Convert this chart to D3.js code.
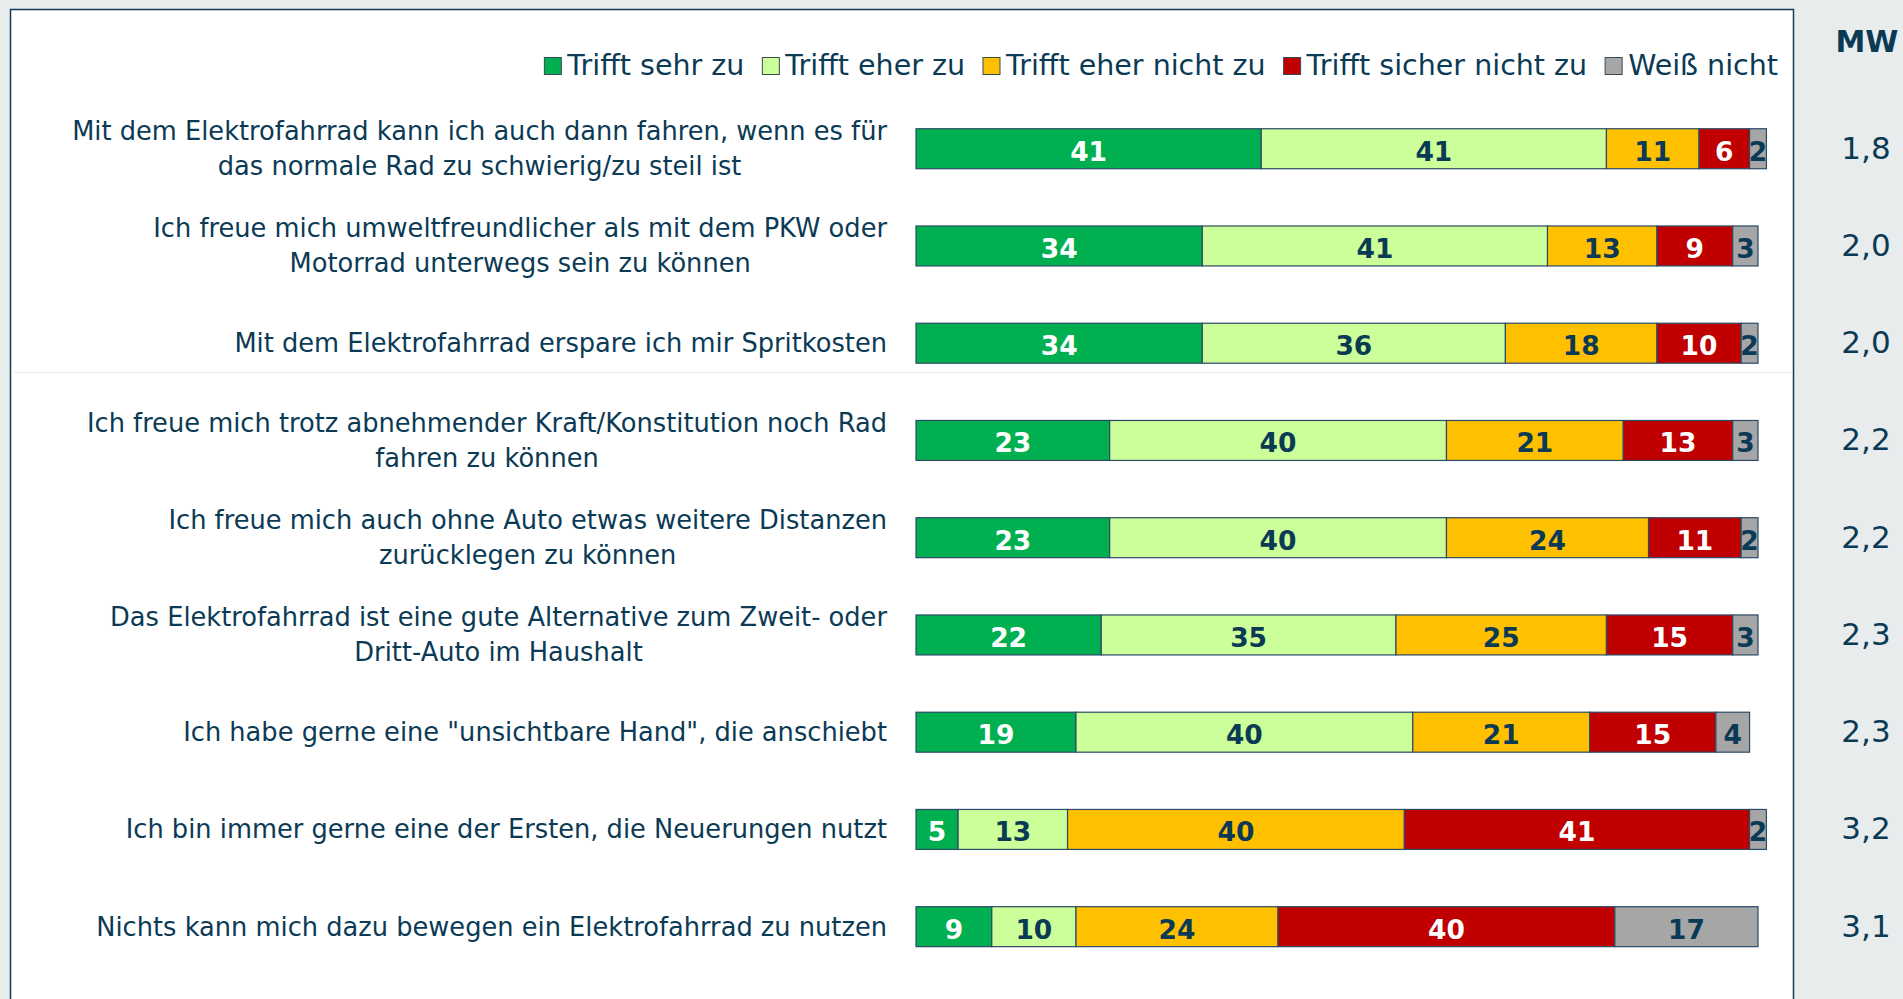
<!DOCTYPE html>
<html><head><meta charset="utf-8">
<script src="https://cdn.jsdelivr.net/npm/d3@7"></script>
<style>html,body{margin:0;padding:0;background:#e8eced;overflow:hidden}</style>
</head><body><svg id="chart" width="1903" height="999"></svg>
<script>
// ---------- data ----------
const categories = [
  "Mit dem Elektrofahrrad kann ich auch dann fahren, wenn es für\ndas normale Rad zu schwierig/zu steil ist",
  "Ich freue mich umweltfreundlicher als mit dem PKW oder\nMotorrad unterwegs sein zu können",
  "Mit dem Elektrofahrrad erspare ich mir Spritkosten",
  "Ich freue mich trotz abnehmender Kraft/Konstitution noch Rad\nfahren zu können",
  "Ich freue mich auch ohne Auto etwas weitere Distanzen\nzurücklegen zu können",
  "Das Elektrofahrrad ist eine gute Alternative zum Zweit- oder\nDritt-Auto im Haushalt",
  "Ich habe gerne eine \"unsichtbare Hand\", die anschiebt",
  "Ich bin immer gerne eine der Ersten, die Neuerungen nutzt",
  "Nichts kann mich dazu bewegen ein Elektrofahrrad zu nutzen"
];
const seriesNames = ["Trifft sehr zu", "Trifft eher zu", "Trifft eher nicht zu", "Trifft sicher nicht zu", "Weiß nicht"];
const trifftSehrZu       = [41, 34, 34, 23, 23, 22, 19, 5, 9];
const trifftEherZu       = [41, 41, 36, 40, 40, 35, 40, 13, 10];
const trifftEherNichtZu  = [11, 13, 18, 21, 24, 25, 21, 40, 24];
const trifftSicherNichtZu= [6, 9, 10, 13, 11, 15, 15, 41, 40];
const weissNicht         = [2, 3, 2, 3, 2, 3, 4, 2, 17];
const mwHeader = "MW";
const mwValues = ["1,8", "2,0", "2,0", "2,2", "2,2", "2,3", "2,3", "3,2", "3,1"];

// ---------- styles ----------
const colors = ["#00b050", "#ccff99", "#ffc000", "#c00000", "#a6a6a6"];
const valueTextColors = ["#ffffff", "#0b3a55", "#0b3a55", "#ffffff", "#0b3a55"];
const textColor = "#0b3a55";
const font = "'DejaVu Sans', Verdana, sans-serif";

// ---------- build table ----------
const seriesArrays = [trifftSehrZu, trifftEherZu, trifftEherNichtZu, trifftSicherNichtZu, weissNicht];
const table = categories.map((c, i) => {
  const row = { cat: c };
  seriesNames.forEach((s, k) => row[s] = seriesArrays[k][i]);
  return row;
});
const stacked = d3.stack().keys(seriesNames)(table);

const svg = d3.select("#chart");

// panel
svg.append("rect").attr("x", 10.5).attr("y", 9.5).attr("width", 1783).attr("height", 1010)
  .attr("fill", "#ffffff").attr("stroke", "#12385a").attr("stroke-width", 1.5);
svg.append("line").attr("x1", 11.5).attr("x2", 1792.5).attr("y1", 372.5).attr("y2", 372.5)
  .attr("stroke", "#eeeeee").attr("stroke-width", 1);

// scales
const x = d3.scaleLinear().domain([0, 100]).range([916, 1758]);
const y = d3.scaleBand().domain(categories).range([100.1, 975.3]).paddingInner(0.589).paddingOuter(0.2945);

// bars
const layers = svg.append("g").selectAll("g").data(stacked).join("g")
  .attr("fill", (d, i) => colors[i]);
layers.selectAll("rect").data(d => d).join("rect")
  .attr("x", d => x(d[0]))
  .attr("y", d => y(d.data.cat))
  .attr("width", d => x(d[1]) - x(d[0]))
  .attr("height", y.bandwidth())
  .attr("stroke", "#2b4a66").attr("stroke-width", 1.2);

// bar value labels
stacked.forEach((layer, k) => {
  svg.append("g").selectAll("text").data(layer).join("text")
    .attr("x", d => (x(d[0]) + x(d[1])) / 2)
    .attr("y", d => y(d.data.cat) + y.bandwidth() / 2 + 12)
    .attr("text-anchor", "middle")
    .attr("font-family", font).attr("font-weight", "bold").attr("font-size", 26.5)
    .attr("fill", valueTextColors[k])
    .text(d => d[1] - d[0]);
});

// category labels (block right-aligned, lines centered)
const labelRight = 887;
categories.forEach(c => {
  const lines = c.split("\n");
  const cy = y(c) + y.bandwidth() / 2;
  const g = svg.append("g");
  const texts = lines.map((ln, j) => g.append("text")
    .attr("font-family", font).attr("font-size", 25.7).attr("fill", textColor)
    .attr("text-anchor", "middle")
    .attr("y", cy + 9 + (j - (lines.length - 1) / 2) * 35)
    .text(ln));
  const w = d3.max(texts, t => t.node().getComputedTextLength());
  texts.forEach(t => t.attr("x", labelRight - w / 2));
});

// legend
const legend = svg.append("g");
const items = seriesNames.map((s, i) => {
  const g = legend.append("g");
  g.append("rect").attr("width", 17).attr("height", 17).attr("y", 57.5)
    .attr("fill", colors[i]).attr("stroke", "#3a4a55").attr("stroke-width", 1);
  const t = g.append("text").attr("x", 23).attr("y", 75)
    .attr("font-family", font).attr("font-size", 28.5).attr("fill", textColor).text(s);
  return { g, w: 23 + t.node().getComputedTextLength() };
});
const legendGap = 18;
const total = d3.sum(items, d => d.w) + legendGap * (items.length - 1);
let lx = 1778 - total;
items.forEach(it => { it.g.attr("transform", `translate(${lx},0)`); lx += it.w + legendGap; });

// MW column
svg.append("text").attr("x", 1867).attr("y", 52).attr("text-anchor", "middle")
  .attr("font-family", font).attr("font-weight", "bold").attr("font-size", 30)
  .attr("fill", textColor).text(mwHeader);
svg.append("g").selectAll("text").data(mwValues).join("text")
  .attr("x", 1866)
  .attr("y", (d, i) => y(categories[i]) + y.bandwidth() / 2 + 10)
  .attr("text-anchor", "middle")
  .attr("font-family", font).attr("font-size", 31).attr("fill", textColor)
  .text(d => d);
</script></body></html>
